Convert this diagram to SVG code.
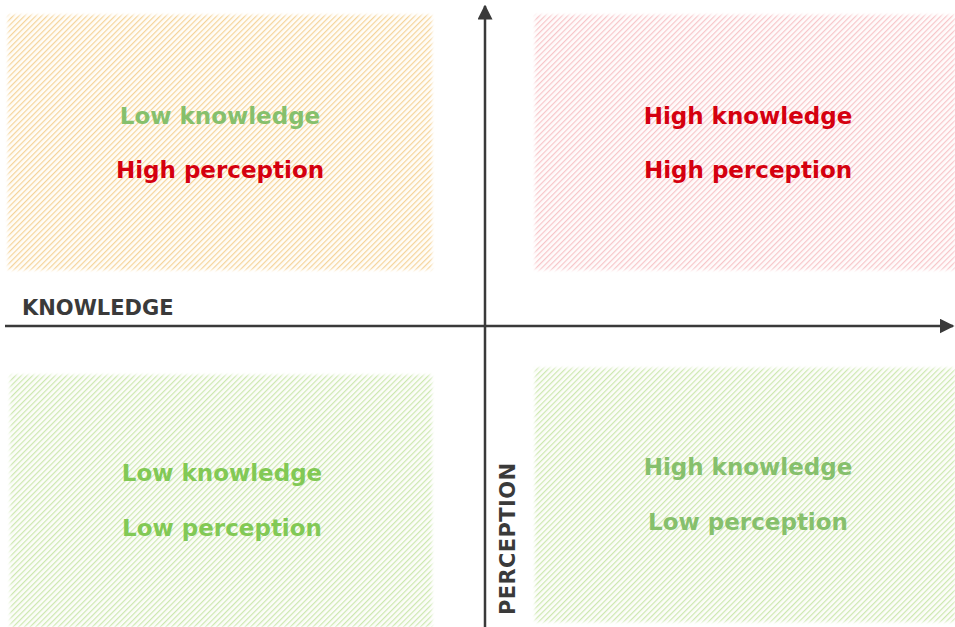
<svg xmlns="http://www.w3.org/2000/svg" width="955" height="627" viewBox="0 0 955 627">
<style>
.q{font-family:"DejaVu Sans","Liberation Sans",sans-serif;font-weight:bold;font-size:23px;text-anchor:middle}
.ax{font-family:"DejaVu Sans","Liberation Sans",sans-serif;font-weight:bold;font-size:21px;fill:#3a3a3a}
.red{fill:#d5000f}
.grn{fill:#86c06c}
.grn2{fill:#82c955}
.axis{stroke:#3a3a3a;stroke-width:2.5;fill:none}
</style>
<defs>
<pattern id="hOr" width="4" height="4" patternUnits="userSpaceOnUse" patternTransform="rotate(45)">
<rect width="4" height="4" fill="#fffdf8"/><rect width="1.2" height="4" fill="#f5d49a"/>
</pattern>
<pattern id="hPk" width="4" height="4" patternUnits="userSpaceOnUse" patternTransform="rotate(45)">
<rect width="4" height="4" fill="#fffbfb"/><rect width="1.2" height="4" fill="#f7c6c9"/>
</pattern>
<pattern id="hGr" width="4" height="4" patternUnits="userSpaceOnUse" patternTransform="rotate(45)">
<rect width="4" height="4" fill="#fcfdf9"/><rect width="1.2" height="4" fill="#cde8b0"/>
</pattern>
<filter id="soft" x="-3%" y="-3%" width="106%" height="106%"><feGaussianBlur stdDeviation="1.5"/></filter>
<mask id="m-tl"><rect x="8" y="15" width="424" height="255" fill="#fff" filter="url(#soft)"/></mask>
<mask id="m-tr"><rect x="535" y="15" width="420" height="255" fill="#fff" filter="url(#soft)"/></mask>
<mask id="m-bl"><rect x="10" y="375" width="422" height="252" fill="#fff" filter="url(#soft)"/></mask>
<mask id="m-br"><rect x="535" y="368" width="420" height="254" fill="#fff" filter="url(#soft)"/></mask>
<marker id="arr" viewBox="0 0 10 10" refX="9" refY="5" markerWidth="6" markerHeight="6" orient="auto" markerUnits="strokeWidth">
<path d="M0,0 L10,5 L0,10 z" fill="#3a3a3a"/>
</marker>
</defs>
<rect width="955" height="627" fill="#ffffff"/>
<g id="q-tl">
<rect x="4" y="11" width="432" height="263" fill="url(#hOr)" mask="url(#m-tl)"/>
<text class="q grn" x="220" y="124">Low knowledge</text>
<text class="q red" x="220" y="178">High perception</text>
</g>
<g id="q-tr">
<rect x="531" y="11" width="424" height="263" fill="url(#hPk)" mask="url(#m-tr)"/>
<text class="q red" x="748" y="124">High knowledge</text>
<text class="q red" x="748" y="178">High perception</text>
</g>
<g id="q-bl">
<rect x="6" y="371" width="430" height="256" fill="url(#hGr)" mask="url(#m-bl)"/>
<text class="q grn2" x="222" y="481">Low knowledge</text>
<text class="q grn2" x="222" y="536">Low perception</text>
</g>
<g id="q-br">
<rect x="531" y="364" width="424" height="262" fill="url(#hGr)" mask="url(#m-br)"/>
<text class="q grn" x="748" y="475">High knowledge</text>
<text class="q grn" x="748" y="530">Low perception</text>
</g>
<g id="connectors">
<line class="axis" x1="5" y1="326" x2="953" y2="326" marker-end="url(#arr)"/>
<line class="axis" x1="485" y1="627" x2="485" y2="6" marker-end="url(#arr)"/>
</g>
<g id="labels">
<text class="ax" x="22" y="315">KNOWLEDGE</text>
<text class="ax" transform="translate(515,615) rotate(-90)" textLength="152" lengthAdjust="spacing">PERCEPTION</text>
</g>
</svg>
